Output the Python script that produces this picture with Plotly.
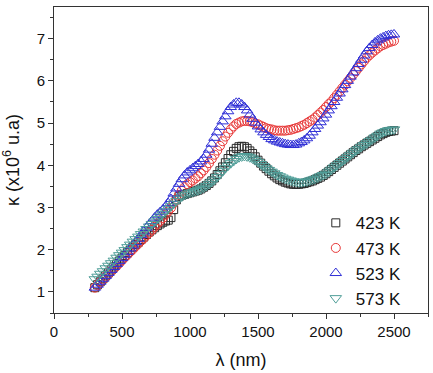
import plotly.graph_objects as go

wavelength = list(range(300, 2501, 20))

k423 = [1.10,1.17,1.24,1.31,1.38,1.45,1.52,1.59,1.66,1.73,
        1.80,1.86,1.93,1.99,2.06,2.12,2.18,2.24,2.30,2.36,
        2.42,2.47,2.52,2.57,2.61,2.65,2.68,2.70,2.76,2.95,
        3.18,3.26,3.29,3.31,3.33,3.35,3.37,3.39,3.41,3.44,
        3.48,3.52,3.57,3.63,3.70,3.78,3.87,3.96,4.06,4.16,
        4.25,4.33,4.40,4.44,4.45,4.44,4.40,4.34,4.28,4.20,
        4.12,4.05,3.98,3.92,3.86,3.80,3.75,3.70,3.66,3.63,
        3.60,3.58,3.56,3.55,3.55,3.55,3.56,3.57,3.59,3.61,
        3.63,3.66,3.69,3.72,3.76,3.80,3.85,3.90,3.95,4.00,
        4.05,4.10,4.15,4.20,4.25,4.30,4.35,4.39,4.44,4.48,
        4.52,4.56,4.60,4.64,4.68,4.72,4.75,4.78,4.80,4.81,
        4.82]

k473 = [1.10,1.16,1.23,1.29,1.36,1.42,1.49,1.55,1.62,1.68,
        1.75,1.82,1.88,1.95,2.01,2.08,2.14,2.21,2.27,2.34,
        2.40,2.47,2.54,2.61,2.68,2.75,2.83,2.91,2.99,3.10,
        3.20,3.30,3.40,3.48,3.55,3.60,3.64,3.69,3.74,3.81,
        3.88,3.96,4.05,4.15,4.25,4.35,4.46,4.57,4.68,4.77,
        4.85,4.92,4.98,5.01,5.04,5.05,5.05,5.04,5.02,4.99,
        4.97,4.94,4.91,4.88,4.86,4.85,4.83,4.82,4.82,4.82,
        4.82,4.83,4.84,4.86,4.88,4.90,4.93,4.96,5.00,5.04,
        5.08,5.13,5.19,5.25,5.31,5.38,5.45,5.51,5.59,5.67,
        5.75,5.83,5.91,5.99,6.07,6.15,6.23,6.31,6.39,6.47,
        6.55,6.61,6.67,6.72,6.77,6.82,6.85,6.88,6.91,6.93,
        6.95]

k523 = [1.10,1.17,1.24,1.31,1.38,1.45,1.52,1.59,1.66,1.73,
        1.80,1.88,1.95,2.03,2.10,2.18,2.26,2.35,2.43,2.52,
        2.60,2.68,2.76,2.83,2.89,2.95,3.02,3.10,3.20,3.33,
        3.45,3.56,3.67,3.76,3.83,3.88,3.93,3.98,4.03,4.09,
        4.15,4.25,4.37,4.51,4.65,4.78,4.91,5.04,5.16,5.28,
        5.38,5.44,5.48,5.48,5.44,5.38,5.30,5.20,5.10,5.01,
        4.92,4.85,4.78,4.72,4.67,4.62,4.59,4.56,4.54,4.52,
        4.50,4.49,4.48,4.48,4.49,4.52,4.55,4.59,4.64,4.70,
        4.78,4.86,4.94,5.02,5.11,5.20,5.30,5.40,5.50,5.60,
        5.70,5.80,5.90,6.00,6.10,6.20,6.30,6.40,6.50,6.60,
        6.70,6.78,6.85,6.91,6.96,7.00,7.03,7.06,7.08,7.09,
        7.10]

k573 = [1.30,1.36,1.43,1.49,1.56,1.62,1.68,1.74,1.81,1.87,
        1.93,1.99,2.06,2.12,2.19,2.25,2.31,2.37,2.43,2.49,
        2.55,2.61,2.67,2.73,2.79,2.85,2.91,2.97,3.03,3.09,
        3.15,3.21,3.26,3.30,3.33,3.35,3.37,3.39,3.41,3.44,
        3.47,3.51,3.56,3.61,3.66,3.72,3.79,3.86,3.93,3.99,
        4.05,4.10,4.15,4.19,4.21,4.22,4.21,4.19,4.16,4.12,
        4.08,4.03,3.98,3.93,3.89,3.85,3.81,3.77,3.74,3.71,
        3.68,3.66,3.64,3.62,3.61,3.60,3.60,3.61,3.62,3.64,
        3.66,3.68,3.71,3.74,3.77,3.80,3.85,3.90,3.95,4.00,
        4.05,4.10,4.15,4.20,4.25,4.30,4.35,4.39,4.44,4.48,
        4.52,4.57,4.61,4.66,4.70,4.75,4.78,4.81,4.83,4.84,
        4.85]

series = [
    ("423 K", k423, "square-open", "#2a2a2a", 8),
    ("473 K", k473, "circle-open", "#e83a3a", 9),
    ("523 K", k523, "triangle-up-open", "#2f2fd6", 10),
    ("573 K", k573, "triangle-down-open", "#4f9e98", 10),
]

fig = go.Figure()
for name, vals, sym, col, sz in series:
    fig.add_trace(go.Scatter(
        x=wavelength, y=vals, mode="markers", name=name,
        marker=dict(symbol=sym, size=sz, color=col, line=dict(width=1, color=col)),
    ))

font = "Arial, 'Liberation Sans', sans-serif"
fig.update_layout(
    width=433, height=373,
    margin=dict(l=54, r=5, t=7, b=60, autoexpand=False),
    plot_bgcolor="white", paper_bgcolor="white",
    font=dict(family=font, size=15, color="#111"),
    showlegend=True,
    legend=dict(x=0.70, y=0.352, xanchor="left", yanchor="top",
                bgcolor="rgba(0,0,0,0)", font=dict(size=17, family=font),
                itemsizing="trace", tracegroupgap=0),
    xaxis=dict(range=[0, 2750], tickvals=[0, 500, 1000, 1500, 2000, 2500],
               ticks="outside", ticklen=5, tickwidth=1, tickcolor="#333",
               minor=dict(dtick=250, ticks="outside", ticklen=3, tickcolor="#333", showgrid=False),
               showline=True, linecolor="#333", linewidth=1, mirror=True,
               showgrid=False, zeroline=False, automargin=False,
               title=dict(text="λ (nm)", font=dict(size=18), standoff=14)),
    yaxis=dict(range=[0.5, 7.75], tickvals=[1, 2, 3, 4, 5, 6, 7],
               ticks="outside", ticklen=5, tickwidth=1, tickcolor="#333",
               minor=dict(dtick=0.5, ticks="outside", ticklen=3, tickcolor="#333", showgrid=False),
               showline=True, linecolor="#333", linewidth=1, mirror=True,
               showgrid=False, zeroline=False, automargin=False,
               title=dict(text="κ (x10<sup>6</sup> u.a)", font=dict(size=18), standoff=14)),
)

fig.write_html("out.html", config={"displayModeBar": False},
               post_script="document.body.style.margin='0';document.body.style.padding='0';")
